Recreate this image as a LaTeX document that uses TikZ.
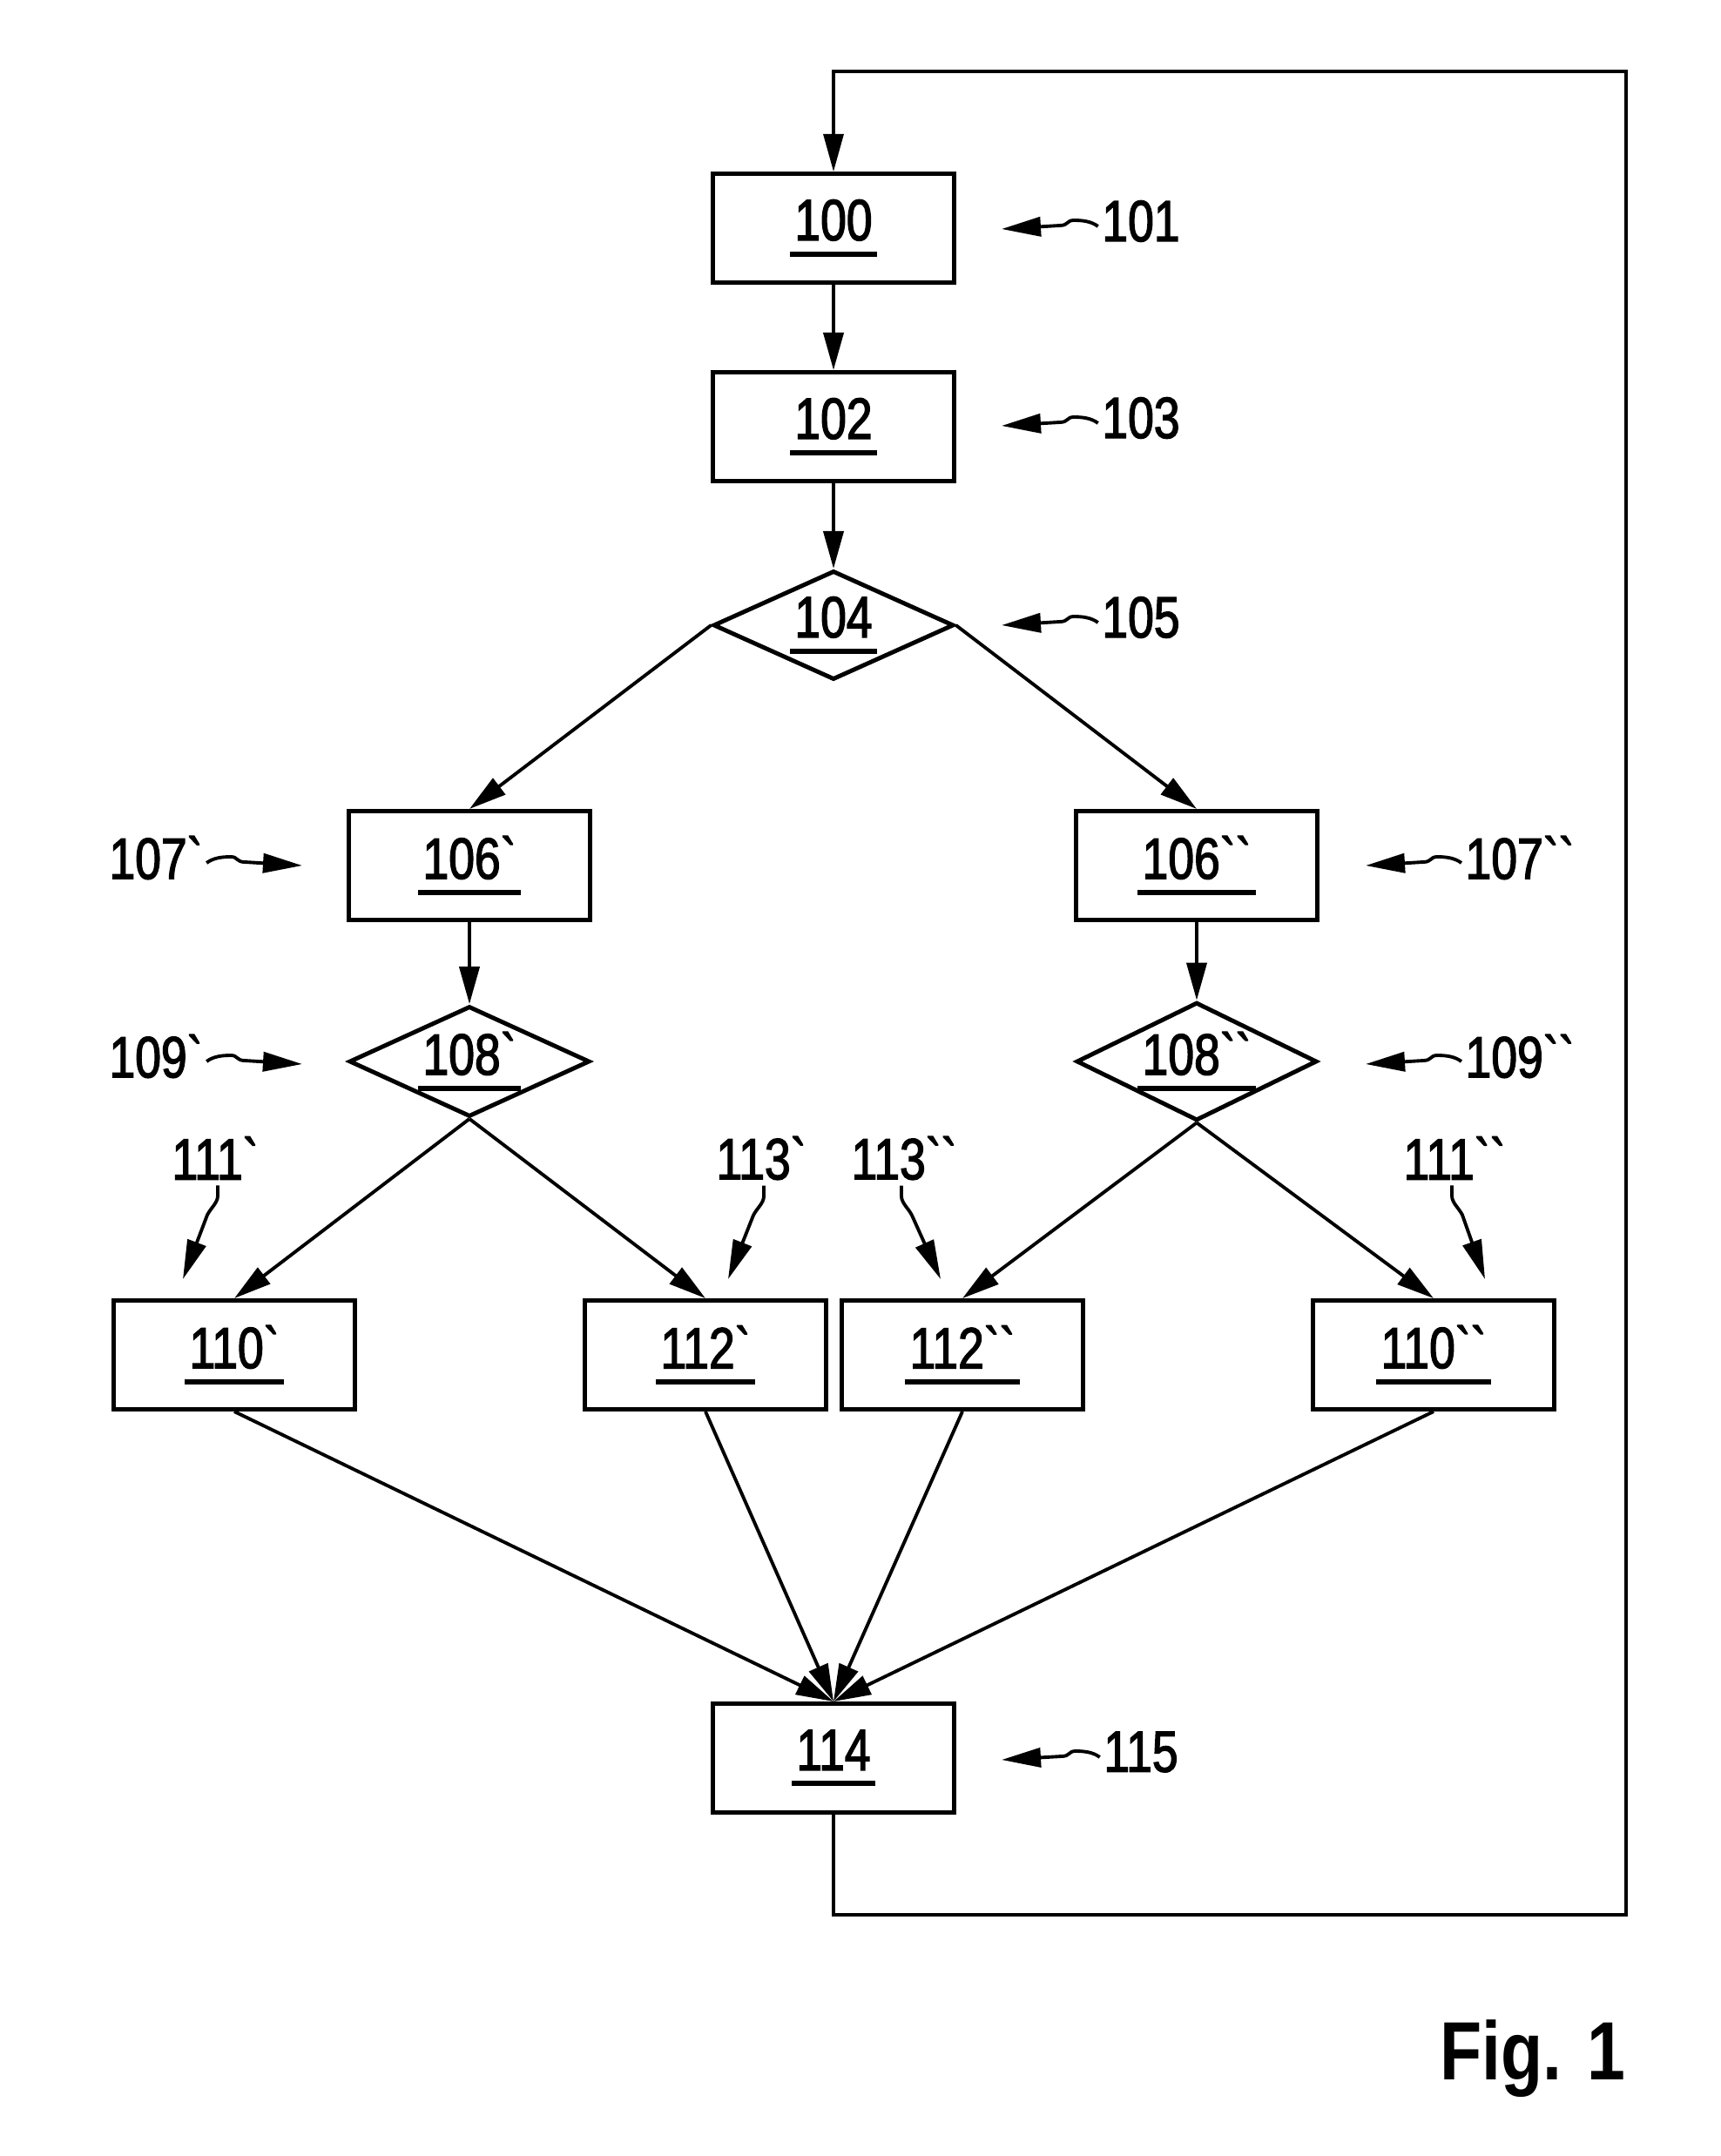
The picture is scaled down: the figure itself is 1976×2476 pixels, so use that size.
\documentclass[tikz,border=0pt]{standalone}
\usepackage{fontspec}
\newfontfamily\lab[FakeStretch=0.8,FakeBold=2]{Liberation Sans}
\newfontfamily\figf[FakeStretch=0.83]{Liberation Sans}
\usetikzlibrary{shapes.geometric,arrows.meta,calc}
\newcommand\un[1]{\vbox{\hbox{\kern1.5pt#1\kern1.5pt}\kern3.5pt\hrule height 1.7pt}}
\newcommand\gr{\symbol{96}}
\begin{document}
\begin{tikzpicture}[x=0.01cm,y=0.01cm,
  numfont/.style={font=\lab\fontsize{19}{23}\selectfont},
  box/.style={draw,line width=1.4pt,minimum width=2.76cm,minimum height=1.25cm,inner sep=0pt,numfont},
  dia/.style={draw,diamond,aspect=2,line width=1.4pt,minimum width=2.76cm,minimum height=1.25cm,inner sep=0pt,numfont},
  tag/.style={numfont,inner sep=0pt},
  conn/.style={line width=1.1pt,-{Triangle[length=0.43cm,width=0.23cm]}},
  loopline/.style={line width=0.9pt,-{Triangle[length=0.43cm,width=0.23cm]}},
  tagline/.style={line width=1.1pt,-{Triangle[length=0.45cm,width=0.22cm]}},
]
\useasboundingbox (0,0) rectangle (1976,-2476);

% main nodes
\node[box] (n100) at (957,-262) {\un{100}};
\node[box] (n102) at (957,-490) {\un{102}};
\node[dia] (n104) at (957,-718) {\un{104}};
\node[box] (n106a) at (539,-994) {\un{106\gr}};
\node[box] (n106b) at (1374,-994) {\un{106\gr\gr}};
\node[dia] (n108a) at (539,-1219) {\un{108\gr}};
\node[dia] (n108b) at (1374,-1219) {\un{108\gr\gr}};
\node[box] (n110a) at (269,-1556) {\un{110\gr}};
\node[box] (n112a) at (810,-1556) {\un{112\gr}};
\node[box] (n112b) at (1105,-1556) {\un{112\gr\gr}};
\node[box] (n110b) at (1646,-1556) {\un{110\gr\gr}};
\node[box] (n114) at (957,-2019) {\un{114}};

% loop coordinates
\coordinate (lb) at (957,-2199);
\coordinate (rb) at (1867,-2199);
\coordinate (rt) at (1867,-82);
\coordinate (lt) at (957,-82);

% connectors
\draw[loopline] (n114.south) -- (lb) -- (rb) -- (rt) -- (lt) -- (n100.north);
\draw[conn] (n100) -- (n102);
\draw[conn] (n102) -- (n104.north);
\draw[conn] (n104.west) -- (n106a.north);
\draw[conn] (n104.east) -- (n106b.north);
\draw[conn] (n106a) -- (n108a.north);
\draw[conn] (n106b) -- (n108b.north);
\draw[conn] (n108a.south) -- (n110a.north);
\draw[conn] (n108a.south) -- (n112a.north);
\draw[conn] (n108b.south) -- (n112b.north);
\draw[conn] (n108b.south) -- (n110b.north);
\draw[conn] (n110a.south) -- (n114.north);
\draw[conn] (n112a.south) -- (n114.north);
\draw[conn] (n112b.south) -- (n114.north);
\draw[conn] (n110b.south) -- (n114.north);

% reference labels
\node[tag] (t101) at (1310,-254) {101};
\node[tag] (t103) at (1310,-480) {103};
\node[tag] (t105) at (1310,-709) {105};
\node[tag] (t115) at (1310,-2012) {115};
\node[tag] (t107b) at (1745,-985) {107\gr\gr};
\node[tag] (t109b) at (1745,-1213) {109\gr\gr};
\node[tag] (t107a) at (179,-985) {107\gr};
\node[tag] (t109a) at (179,-1213) {109\gr};
\node[tag] (t111a) at (247,-1330) {111\gr};
\node[tag] (t113a) at (874,-1330) {113\gr};
\node[tag] (t113b) at (1038,-1330) {113\gr\gr};
\node[tag] (t111b) at (1670,-1330) {111\gr\gr};

\coordinate (p101) at (1150,-263);
\coordinate (p103) at (1150,-489);
\coordinate (p105) at (1150,-718);
\coordinate (p115) at (1150,-2021);
\coordinate (p107b) at (1568,-994);
\coordinate (p109b) at (1568,-1222);
\coordinate (p107a) at (347,-994);
\coordinate (p109a) at (347,-1222);
\coordinate (p111a) at (210,-1469);
\coordinate (p113a) at (836,-1469);
\coordinate (p113b) at (1080,-1469);
\coordinate (p111b) at (1705,-1469);

% left-pointing tag arrows
\foreach \t in {101,103,105,115,107b,109b}{
  \draw[tagline] ($(t\t.west)+(-4,-6)$) .. controls +(-8,6) and +(10,0) .. ++(-28,7)
     .. controls +(-8,0) and +(10,0) .. ++(-16,-6) -- (p\t);
}
% right-pointing tag arrows
\foreach \t in {107a,109a}{
  \draw[tagline] ($(t\t.east)+(4,-6)$) .. controls +(8,6) and +(-10,0) .. ++(28,7)
     .. controls +(8,0) and +(-10,0) .. ++(16,-6) -- (p\t);
}
% down-left tag arrows
\foreach \t in {111a,113a}{
  \draw[tagline] ($(t\t.south)+(3,-6)$) -- ++(0,-12) .. controls +(0,-8) and +(4,8) .. ++(-12,-22) -- (p\t);
}
% down-right tag arrows
\foreach \t in {113b,111b}{
  \draw[tagline] ($(t\t.south)+(-3,-6)$) -- ++(0,-12) .. controls +(0,-8) and +(-4,8) .. ++(12,-22) -- (p\t);
}

\node[font=\figf\bfseries\fontsize{27}{30}\selectfont,inner sep=0pt,anchor=base] (fig) at (1760,-2388) {Fig. 1};
\end{tikzpicture}
\end{document}
